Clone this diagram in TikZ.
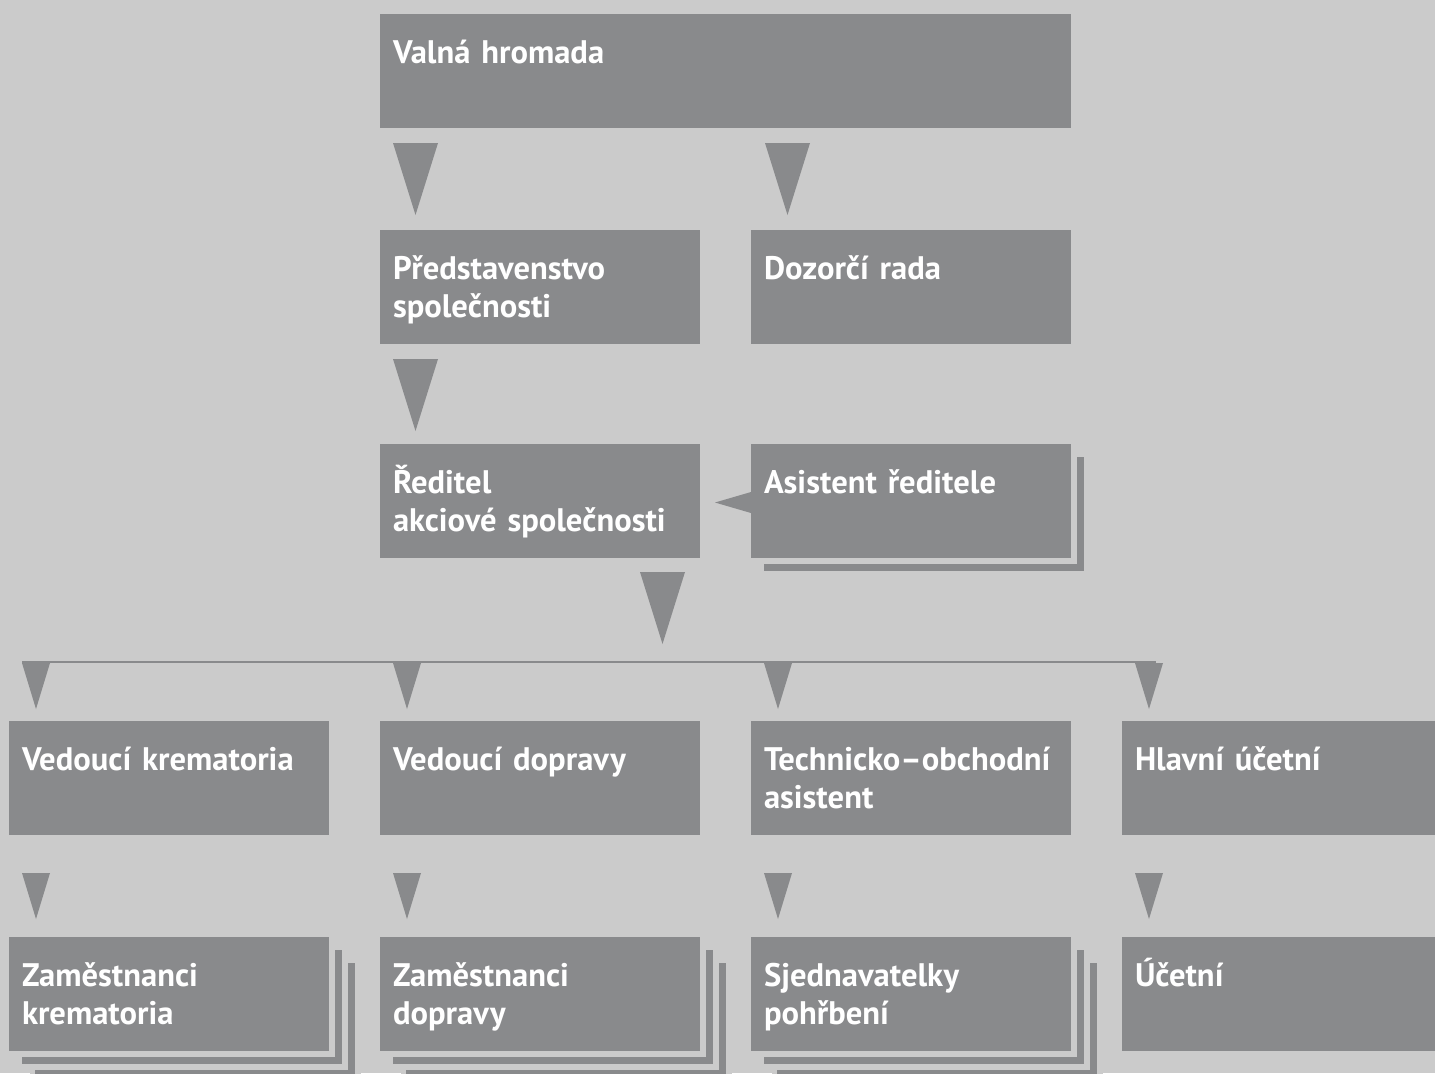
\documentclass[tikz,border=0pt]{standalone}
\usepackage{fontspec}
\setmainfont[WordSpace=0.75]{PT Sans}
\usetikzlibrary{calc}
\definecolor{bggray}{RGB}{203,203,203}
\definecolor{boxgray}{RGB}{137,138,140}
\tikzset{
  unit/.style={rectangle, fill=boxgray, anchor=north west, outer sep=0pt,
    inner xsep=6.5pt, inner ysep=14pt, text width=147pt,
    text height=10.5pt, text depth=18.5pt, align=left, text=white,
    font=\fontsize{16.3}{19}\selectfont\bfseries},
  halo/.style={preaction={draw=bggray, line width=5.5pt}},
  sheet/.style={
    preaction={draw=bggray, line width=5.5pt, transform canvas={shift={(#1,-#1)}}},
    preaction={fill=boxgray, transform canvas={shift={(#1,-#1)}}}},
  tip/.style={fill=boxgray},
  bus/.style={draw=boxgray, line width=1.3pt},
}
\begin{document}
\begin{tikzpicture}[x=0.5pt,y=-0.5pt]
  \fill[bggray] (0,0) rectangle (1435,1073);
  \useasboundingbox (0,0) rectangle (1435,1073);

  \node[unit, text width=332.5pt] (valna) at (380,14) {Valná hromada};
  \node[unit] (pred) at (380,230) {Představenstvo\\společnosti};
  \node[unit] (dozor) at (751,230) {Dozorčí rada};
  \node[unit] (redit) at (380,444) {Ředitel\\akciové společnosti};
  \node[unit, sheet=6.5pt, halo] (asist) at (751,444) {Asistent ředitele};
  \node[unit] (krem) at (9,721) {Vedoucí krematoria};
  \node[unit] (dopr) at (380,721) {Vedoucí dopravy};
  \node[unit] (tech) at (751,721) {Technicko–obchodní asistent};
  \node[unit] (hlav) at (1122,721) {Hlavní účetní};
  \node[unit, sheet=13pt, sheet=6.5pt, halo] (zkrem) at (9,937) {Zaměstnanci\\krematoria};
  \node[unit, sheet=13pt, sheet=6.5pt, halo] (zdopr) at (380,937) {Zaměstnanci\\dopravy};
  \node[unit, sheet=13pt, sheet=6.5pt, halo] (sjed) at (751,937) {Sjednavatelky\\pohřbení};
  \node[unit] (ucet) at (1122,937) {Účetní};

  \coordinate (busL) at (22,662);
  \coordinate (busR) at (1156,662);
  \draw[bus] (busL) -- (busR);

  \fill[tip] ($(pred.north west)+(13,-87)$) -- ++(45,0) -- ++(-22.5,72) -- cycle;
  \fill[tip] ($(dozor.north west)+(14,-87)$) -- ++(45,0) -- ++(-22.5,72) -- cycle;
  \fill[tip] ($(redit.north west)+(13,-85)$) -- ++(45,0) -- ++(-22.5,72) -- cycle;
  \fill[tip] ($(redit.south east)+(-60,14)$) -- ++(45,0) -- ++(-22.5,72) -- cycle;
  \fill[tip] ($(asist.north west)+(0,48)$) -- ++(-36,10.5) -- ++(36,10.5) -- cycle;

  \foreach \n in {krem,dopr,tech,hlav}
    \fill[tip] ($(\n.north west)+(13,-58)$) -- ++(28,0) -- ++(-14,46) -- cycle;
  \foreach \n in {zkrem,zdopr,sjed,ucet}
    \fill[tip] ($(\n.north west)+(13,-64)$) -- ++(28,0) -- ++(-14,46) -- cycle;

\end{tikzpicture}
\end{document}
